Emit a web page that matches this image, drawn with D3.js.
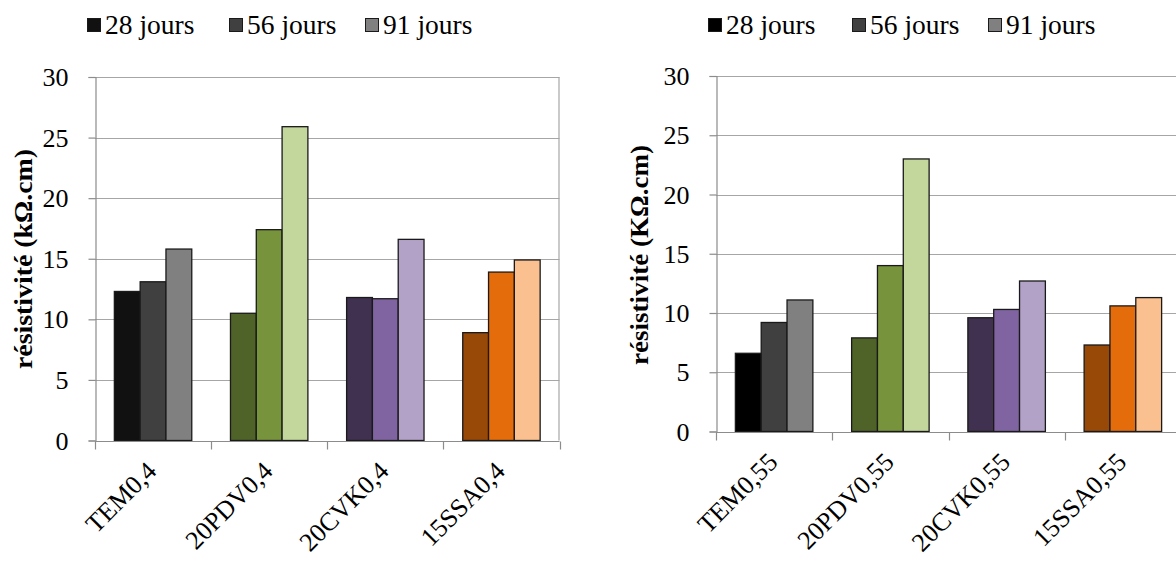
<!DOCTYPE html>
<html>
<head>
<meta charset="utf-8">
<script src="https://cdn.jsdelivr.net/npm/d3@7"></script>
<style>
  html, body { margin: 0; padding: 0; background: #fff; }
  svg { display: block; }
  svg text { font-family: 'Liberation Serif', 'Times New Roman', serif; }
</style>
</head>
<body>
<svg id="chart" width="1176" height="561"></svg>
<script>
// ---- data ----
const seriesNames = ["28 jours", "56 jours", "91 jours"];
const yTicks = [0, 5, 10, 15, 20, 25, 30];

const categoriesLeft = ["TEM0,4", "20PDV0,4", "20CVK0,4", "15SSA0,4"];
const values28Left = [12.3, 10.5, 11.8, 8.9];
const values56Left = [13.1, 17.4, 11.7, 13.9];
const values91Left = [15.8, 25.9, 16.6, 14.9];

const categoriesRight = ["TEM0,55", "20PDV0,55", "20CVK0,55", "15SSA0,55"];
const values28Right = [6.6, 7.9, 9.6, 7.3];
const values56Right = [9.2, 14.0, 10.3, 10.6];
const values91Right = [11.1, 23.0, 12.7, 11.3];

// fill colours per category (28 / 56 / 91 days)
const colorsLeft = [
  ["#111111", "#404040", "#808080"],
  ["#4f6228", "#77933c", "#c3d69b"],
  ["#403151", "#8064a2", "#b3a2c7"],
  ["#984807", "#e46c0a", "#fac090"]
];
const colorsRight = [
  ["#000000", "#404040", "#808080"],
  ["#4f6228", "#77933c", "#c3d69b"],
  ["#403151", "#8064a2", "#b3a2c7"],
  ["#984807", "#e46c0a", "#fac090"]
];

const svg = d3.select("#chart");

function drawPanel(cfg) {
  const g = svg.append("g");
  const x0 = d3.scaleBand().domain(cfg.categories).range([cfg.left, cfg.right]).paddingInner(0).paddingOuter(0);
  const x1 = d3.scaleBand().domain(seriesNames).range([0, x0.bandwidth()]).paddingOuter(0.75).paddingInner(0);
  const y = d3.scaleLinear().domain([0, 30]).range([cfg.bottom, cfg.top]);

  // gridlines
  g.append("g").selectAll("line").data(yTicks.filter(t => t > 0)).join("line")
    .attr("x1", cfg.left).attr("x2", cfg.right)
    .attr("y1", d => Math.round(y(d)) + 0.5).attr("y2", d => Math.round(y(d)) + 0.5)
    .attr("stroke", "#a6a6a6").attr("stroke-width", 1.2);
  // right border
  g.append("line").attr("x1", cfg.right - 0.5).attr("x2", cfg.right - 0.5)
    .attr("y1", y(30)).attr("y2", cfg.bottom)
    .attr("stroke", "#a6a6a6").attr("stroke-width", 1.2);

  // y axis
  const yAxis = d3.axisLeft(y).tickValues(yTicks).tickSize(7).tickPadding(20).tickFormat(d3.format("d"));
  const ya = g.append("g").attr("transform", `translate(${Math.round(cfg.left) + 0.5},0)`).call(yAxis);
  ya.attr("font-family", null);
  ya.select(".domain").attr("stroke", "#8c8c8c").attr("stroke-width", 1.2);
  ya.selectAll(".tick line").attr("stroke", "#8c8c8c").attr("stroke-width", 1.2);
  ya.selectAll(".tick text").attr("font-size", 26).attr("fill", "#000").attr("dy", "0.33em");

  // bars
  const vals = [cfg.v28, cfg.v56, cfg.v91];
  const rows = [];
  cfg.categories.forEach((c, i) => {
    seriesNames.forEach((s, j) => rows.push({ c, s, i, j, v: vals[j][i] }));
  });
  g.append("g").selectAll("rect").data(rows).join("rect")
    .attr("x", d => x0(d.c) + x1(d.s))
    .attr("y", d => y(d.v))
    .attr("width", x1.bandwidth())
    .attr("height", d => cfg.bottom - y(d.v))
    .attr("fill", d => cfg.colors[d.i][d.j])
    .attr("stroke", "#1a1a1a").attr("stroke-width", 1.3);

  // x axis
  const xa = g.append("g").attr("transform", `translate(0,${Math.round(cfg.bottom) + 0.5})`);
  xa.append("line").attr("x1", cfg.left).attr("x2", cfg.right)
    .attr("stroke", "#8c8c8c").attr("stroke-width", 1.2);
  const bounds = cfg.categories.map(c => x0(c)).concat([cfg.right]);
  xa.selectAll("line.tk").data(bounds).join("line").attr("class", "tk")
    .attr("x1", d => Math.round(d) + 0.5).attr("x2", d => Math.round(d) + 0.5)
    .attr("y1", 0).attr("y2", 8).attr("stroke", "#8c8c8c").attr("stroke-width", 1.2);
  xa.selectAll("text").data(cfg.categories).join("text")
    .attr("transform", d => `translate(${x0(d) + x0.bandwidth() / 2 + 5},${31}) rotate(-45)`)
    .attr("text-anchor", "end")
    .attr("font-size", 26)
    .attr("fill", "#000")
    .text(d => d);

  // y title
  g.append("text")
    .attr("transform", `translate(${cfg.titleX},${cfg.titleY}) rotate(-90)`)
    .attr("text-anchor", "middle")
    .attr("font-weight", "bold")
    .attr("font-size", 25)
    .attr("textLength", 220)
    .attr("lengthAdjust", "spacingAndGlyphs")
    .attr("fill", "#000")
    .text(cfg.title);

  // legend
  const lg = g.append("g");
  seriesNames.forEach((s, j) => {
    const lx = cfg.legendX[j];
    lg.append("rect").attr("x", lx + 0.5).attr("y", 18.5).attr("width", 13).attr("height", 13)
      .attr("fill", cfg.colors[0][j]).attr("stroke", "#1a1a1a").attr("stroke-width", 1);
    lg.append("text").attr("x", lx + 18).attr("y", 34)
      .attr("font-size", 27.5).attr("fill", "#000").text(s);
  });
}

drawPanel({
  categories: categoriesLeft, v28: values28Left, v56: values56Left, v91: values91Left,
  colors: colorsLeft, left: 95, right: 559.5, top: 77, bottom: 440.5,
  title: "résistivité (kΩ.cm)", titleX: 32, titleY: 259,
  legendX: [87, 229, 365]
});
drawPanel({
  categories: categoriesRight, v28: values28Right, v56: values56Right, v91: values91Right,
  colors: colorsRight, left: 716, right: 1181, top: 76, bottom: 431.5,
  title: "résistivité (KΩ.cm)", titleX: 648, titleY: 255,
  legendX: [708, 852, 988]
});
</script>
</body>
</html>
